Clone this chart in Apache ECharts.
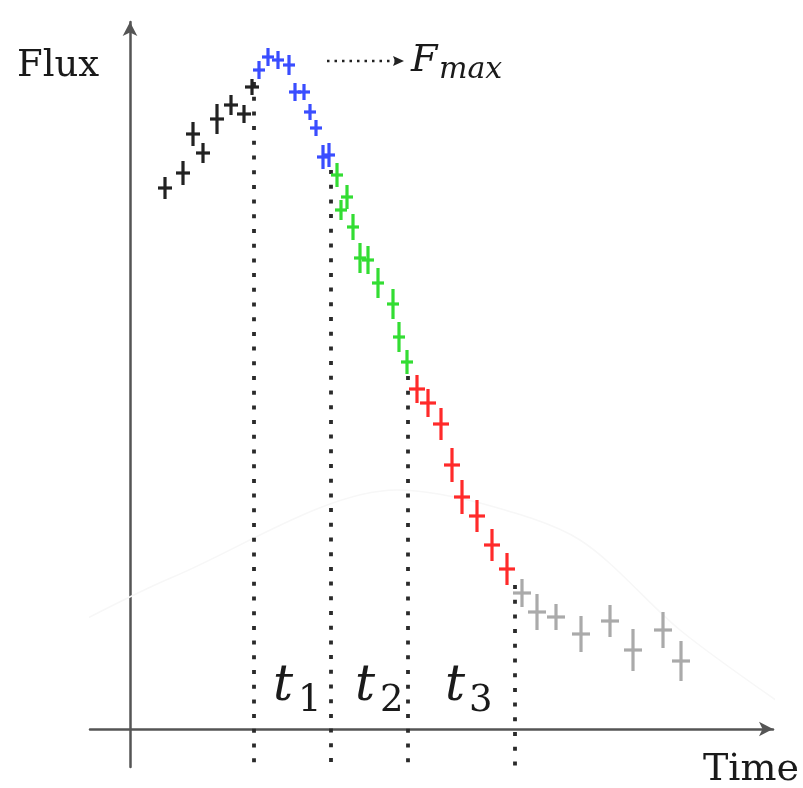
<!DOCTYPE html>
<html>
<head>
<meta charset="utf-8">
<script src="https://cdn.jsdelivr.net/npm/echarts@6/dist/echarts.min.js"></script>
<style>html,body{margin:0;padding:0;background:#fff;}#c{width:803px;height:788px;}</style>
</head>
<body>
<div id="c"></div>
<script>
// Data: [time, flux, error]
const risePoints = [[7.0,108.2,2.2],[10.6,111.2,2.4],[12.6,119.0,2.4],[14.6,115.2,2.0],[17.4,122.0,3.0],[20.2,124.8,2.0],[22.8,123.0,1.8],[24.4,128.4,1.6]];
const peakPoints = [[25.8,131.8,1.8],[27.6,134.4,1.8],[29.6,133.8,1.8],[31.8,132.8,2.0],[33.0,127.4,1.8],[34.8,127.4,1.6],[36.0,123.4,1.6],[37.2,120.2,1.6],[38.6,114.4,2.4],[39.8,114.8,2.4]];
const decay2Points = [[41.4,110.8,2.4],[43.4,106.4,2.4],[42.2,103.8,2.0],[44.6,100.4,2.6],[46.0,94.2,3.0],[47.6,93.8,2.8],[49.6,89.2,3.0],[52.6,85.0,3.0],[53.8,78.4,3.0],[55.4,73.4,2.4]];
const decay3Points = [[57.4,68.0,2.8],[59.6,65.2,2.8],[62.2,61.0,3.2],[64.4,52.8,3.4],[66.4,46.4,3.4],[69.4,42.6,3.2],[72.4,36.8,3.2],[75.4,32.0,3.2]];
const tailPoints = [[78.4,27.2,2.8],[81.4,23.4,3.6],[85.2,22.4,2.6],[90.2,19.0,3.6],[96.0,21.6,3.2],[100.6,15.8,4.2],[106.6,19.8,3.6],[110.2,13.6,4.0]];
const markerLines = [[24.8,129.4],[40.2,111.8],[55.6,70.6],[77.0,28.8]];
const faintCurve = [[-10,21.4],[8.6,30.4],[53.4,47.8],[70,45.2],[90,37.8],[110,19.8],[130,5.2]];
const segLabels = ['1','2','3'];

const X_MIN = -8, X_MAX = 128.6, Y_MIN = -7.6, Y_MAX = 141.4;

function errSeries(data, color, hw) {
  return {
    type: 'custom', data: data, clip: false, z: 5,
    renderItem: function (params, api) {
      const t = api.value(0), f = api.value(1), e = api.value(2);
      const c = api.coord([t, f]);
      const top = api.coord([t, f + e]);
      const bot = api.coord([t, f - e]);
      const st = { stroke: color, lineWidth: 3.2 };
      return { type: 'group', children: [
        { type: 'line', shape: { x1: c[0], y1: top[1], x2: c[0], y2: bot[1] }, style: st },
        { type: 'line', shape: { x1: c[0] - hw, y1: c[1], x2: c[0] + hw, y2: c[1] }, style: st }
      ]};
    }
  };
}

const txt = '#1a1a1a';
const fam = 'DejaVu Serif';
function label(x, y, text, size, italic) {
  return { type: 'text', x: x, y: y, z: 10, style: {
    text: text, fontFamily: fam, fontSize: size, fontStyle: italic ? 'italic' : 'normal',
    fill: txt, verticalAlign: 'middle', align: 'left' } };
}

const chart = echarts.init(document.getElementById('c'), null, { renderer: 'canvas' });
const option = {
  animation: false,
  backgroundColor: '#fff',
  grid: { left: 90, right: 30, top: 22, bottom: 21 },
  xAxis: {
    type: 'value', min: X_MIN, max: X_MAX,
    axisLine: { onZero: true, lineStyle: { color: '#555', width: 2.5 }, symbol: ['none', 'arrow'], symbolSize: [11, 14] },
    axisTick: { show: false }, axisLabel: { show: false }, splitLine: { show: false }
  },
  yAxis: {
    type: 'value', min: Y_MIN, max: Y_MAX,
    axisLine: { onZero: true, lineStyle: { color: '#555', width: 2.5 }, symbol: ['none', 'arrow'], symbolSize: [11, 14] },
    axisTick: { show: false }, axisLabel: { show: false }, splitLine: { show: false }
  },
  series: [
    { type: 'line', data: faintCurve, smooth: 0.3, symbol: 'none', clip: false, z: 1,
      lineStyle: { color: '#f7f7f7', width: 1.5 } },
    { type: 'custom', data: markerLines, clip: false, z: 3,
      renderItem: function (params, api) {
        const a = api.coord([api.value(0), api.value(1)]);
        const b = api.coord([api.value(0), Y_MIN]);
        return { type: 'line', shape: { x1: a[0], y1: a[1], x2: b[0], y2: b[1] },
          style: { stroke: '#2a2a2a', lineWidth: 3.8, lineDash: [4, 10.7] } };
      } },
    errSeries(risePoints, '#222222', 7),
    errSeries(peakPoints, '#3a4dff', 6),
    errSeries(decay2Points, '#33dd33', 6),
    errSeries(decay3Points, '#ff2a2a', 8),
    errSeries(tailPoints, '#aaaaaa', 9)
  ],
  graphic: [
    label(17, 66, 'Flux', 37, false),
    label(703, 770, 'Time', 38, false),
    { type: 'line', shape: { x1: 327, y1: 61, x2: 395, y2: 61 }, style: { stroke: '#222', lineWidth: 2.5, lineDash: [2.5, 5] } },
    { type: 'polygon', shape: { points: [[404, 61], [393, 56], [395, 61], [393, 66]] }, style: { fill: '#222' } },
    label(411, 61, 'F', 38, true),
    label(439, 70, 'max', 30, true),
    label(273, 687, 't', 50, true),
    label(298, 701, segLabels[0], 37, false),
    label(355, 687, 't', 50, true),
    label(380, 701, segLabels[1], 37, false),
    label(445, 687, 't', 50, true),
    label(469, 701, segLabels[2], 37, false)
  ]
};
chart.setOption(option);
</script>
</body>
</html>
